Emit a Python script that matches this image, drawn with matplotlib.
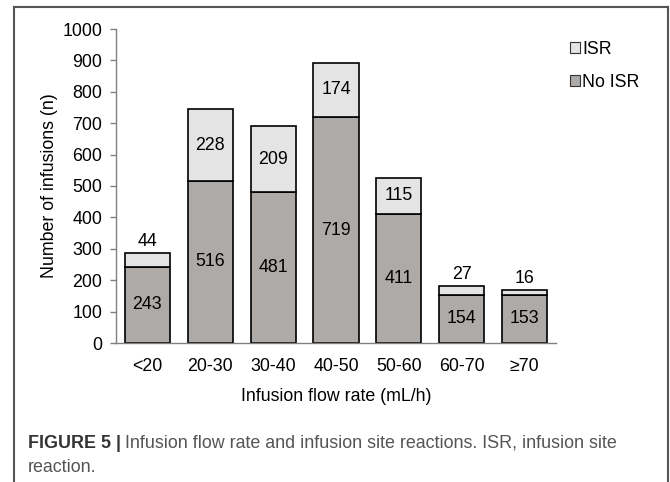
import matplotlib.pyplot as plt
from matplotlib.lines import Line2D
import numpy as np

plt.rcParams['font.family'] = ['Liberation Sans', 'DejaVu Sans']

# Data
categories = ['<20', '20-30', '30-40', '40-50', '50-60', '60-70', '≥70']
no_isr = [243, 516, 481, 719, 411, 154, 153]
isr = [44, 228, 209, 174, 115, 27, 16]

color_no = '#aeaaa8'
color_isr = '#e4e4e4'
fs = 12.8

W, H = 670, 482
fig = plt.figure(figsize=(W / 100, H / 100), dpi=100)

# axes placed in pixel terms
left, right, top, bottom = 116, 556, 29, 343
ax = fig.add_axes([left / W, 1 - bottom / H, (right - left) / W, (bottom - top) / H])

x = np.arange(len(categories))
width = 0.72
ax.bar(x, no_isr, width, color=color_no, edgecolor='black', linewidth=1.2, label='No ISR')
ax.bar(x, isr, width, bottom=no_isr, color=color_isr, edgecolor='black', linewidth=1.2, label='ISR')

# value labels
for i in range(len(categories)):
    ax.text(x[i], no_isr[i] / 2, str(no_isr[i]), ha='center', va='center', fontsize=fs)
    if isr[i] < 60:
        ax.annotate(str(isr[i]), (x[i], no_isr[i] + isr[i]), xytext=(0, 2),
                    textcoords='offset points', ha='center', va='bottom', fontsize=fs)
    else:
        ax.text(x[i], no_isr[i] + isr[i] / 2, str(isr[i]), ha='center', va='center', fontsize=fs)

ax.set_xlim(-0.5, len(categories) - 0.5)
ax.set_ylim(0, 1000)
ax.set_yticks(np.arange(0, 1001, 100))
ax.set_xticks(x)
ax.set_xticklabels(categories)
ax.tick_params(axis='x', length=0, labelsize=fs, pad=11)
ax.tick_params(axis='y', length=4, width=1, color='#808080', labelsize=fs, pad=6)
for s in ['top', 'right']:
    ax.spines[s].set_visible(False)
for s in ['left', 'bottom']:
    ax.spines[s].set_color('#808080')
    ax.spines[s].set_linewidth(1)
ax.set_ylabel('Number of infusions (n)', fontsize=fs, labelpad=3)
ax.set_xlabel('Infusion flow rate (mL/h)', fontsize=fs, labelpad=9)

# legend, ISR on top
handles, labels = ax.get_legend_handles_labels()
leg = fig.legend(handles[::-1], labels[::-1], loc='upper left', bbox_to_anchor=(570 / W, 1 - 41 / H),
                 frameon=False, fontsize=fs, handlelength=0.55, handleheight=0.55,
                 handletextpad=0.15, labelspacing=0.9, borderpad=0, borderaxespad=0)
for h in leg.legend_handles:
    h.set_edgecolor('#333333')
    h.set_linewidth(0.8)

# outer frame (open at the bottom)
fc = '#555555'
fx0, fx1, fy0 = 14 / W, 668 / W, 1 - 6.5 / H
fig.add_artist(Line2D([fx0, fx0], [0, fy0], color=fc, lw=1.5))
fig.add_artist(Line2D([fx1, fx1], [0, fy0], color=fc, lw=1.5))
fig.add_artist(Line2D([fx0, fx1], [fy0, fy0], color=fc, lw=1.5))

# caption
cap_size = 12.9
t1 = fig.text(28 / W, 1 - 443 / H, 'FIGURE 5 |', fontsize=cap_size, fontweight='bold',
              color='#333333', va='center')
renderer = fig.canvas.get_renderer()
bb = t1.get_window_extent(renderer)
fig.text(bb.x1 / W + 4 / W, 1 - 443 / H,
         'Infusion flow rate and infusion site reactions. ISR, infusion site',
         fontsize=cap_size, color='#555555', va='center')
fig.text(28 / W, 1 - 468 / H, 'reaction.', fontsize=cap_size, color='#555555', va='center')

fig.savefig('out.png', dpi=100)
